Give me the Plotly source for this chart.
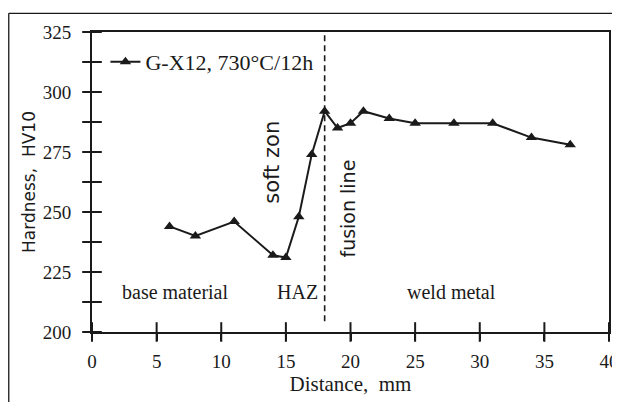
import plotly.graph_objects as go

# ---- data ----
distance_mm = [6, 8, 11, 14, 15, 16, 17, 18, 19, 20, 21, 23, 25, 28, 31, 34, 37]
hardness_hv10 = [244, 240, 246, 232, 231, 248, 274, 292, 285, 287, 292, 289, 287, 287, 287, 281, 278]
series_name = "G-X12, 730°C/12h"
fusion_line_x = 18
x_ticks = [0, 5, 10, 15, 20, 25, 30, 35, 40]
y_ticks = [200, 212.5, 225, 237.5, 250, 262.5, 275, 287.5, 300, 312.5, 325]
y_tick_labels = ["200", "", "225", "", "250", "", "275", "", "300", "", "325"]

SERIF = "Liberation Serif, Times New Roman, serif"
SANS = "DejaVu Sans, Verdana, sans-serif"
INK = "#1a1a1a"

X_RANGE = [0, 40]
Y_RANGE = [200, 325]

fig = go.Figure()

fig.add_trace(go.Scatter(
    x=distance_mm, y=hardness_hv10, name=series_name,
    mode="lines+markers",
    line=dict(color=INK, width=2),
    marker=dict(symbol="triangle-up", size=10, color=INK),
    hoverinfo="x+y",
))

# inner halves of the crossing tick marks (axis ticks themselves are drawn outside)
fig.add_trace(go.Scatter(
    x=x_ticks, y=[Y_RANGE[0]] * len(x_ticks), mode="markers", cliponaxis=False,
    marker=dict(symbol="line-ns-open", size=14, color=INK, line=dict(color=INK, width=2)),
    showlegend=False, hoverinfo="skip",
))
fig.add_trace(go.Scatter(
    x=[X_RANGE[0]] * len(y_ticks), y=y_ticks, mode="markers", cliponaxis=False,
    marker=dict(symbol="line-ew-open", size=14, color=INK, line=dict(color=INK, width=2)),
    showlegend=False, hoverinfo="skip",
))

tick_font = dict(family=SERIF, size=19, color=INK)
tick_common = dict(ticklen=7, tickwidth=2, tickcolor=INK, showgrid=False, zeroline=False)

fig.update_layout(
    width=612, height=394,
    margin=dict(l=84, r=11, t=24, b=70),
    paper_bgcolor="white", plot_bgcolor="white",
    showlegend=True,
    legend=dict(
        x=0.026, y=0.97, xanchor="left", yanchor="top",
        bgcolor="rgba(0,0,0,0)", font=dict(family=SERIF, size=22, color=INK),
        itemwidth=30, tracegroupgap=0,
    ),
    xaxis=dict(
        range=X_RANGE, tickvals=x_ticks, ticks="outside",
        showline=True, linewidth=2, linecolor=INK, mirror=True,
        tickfont=tick_font, ticklabelstandoff=4, automargin=False,
        title=dict(text="Distance,  mm", font=dict(family=SERIF, size=21, color=INK), standoff=4),
        **tick_common,
    ),
    yaxis=dict(
        range=Y_RANGE, tickvals=y_ticks, ticktext=y_tick_labels, ticks="outside",
        showline=True, linewidth=2, linecolor=INK, mirror=True,
        tickfont=tick_font, ticklabelstandoff=8, automargin=False,
        title=dict(text="Hardness,  HV10", font=dict(family=SANS, size=17, color=INK), standoff=3),
        **tick_common,
    ),
)

# fusion line (dashed vertical)
fig.add_shape(type="line", xref="x", yref="y", x0=fusion_line_x, x1=fusion_line_x,
              y0=204.5, y1=325, line=dict(color=INK, width=1.6, dash="6px,4px"))

# outer frame (top and left edges visible)
fig.add_shape(type="line", xref="paper", yref="paper", x0=-0.161, x1=1.2, y0=1.0624, y1=1.0624,
              line=dict(color=INK, width=1.3))
fig.add_shape(type="line", xref="paper", yref="paper", x0=-0.161, x1=-0.161, y0=1.0624, y1=-0.4,
              line=dict(color=INK, width=1.3))

region_font = dict(family=SERIF, size=20, color=INK)
fig.add_annotation(x=6.45, y=216.5, text="base material", showarrow=False, font=region_font)
fig.add_annotation(x=15.9, y=216.5, text="HAZ", showarrow=False, font=region_font)
fig.add_annotation(x=27.85, y=216.5, text="weld metal", showarrow=False, font=region_font)

fig.add_annotation(x=13.86, y=270.6, text="soft zon", textangle=-90, showarrow=False,
                   font=dict(family=SANS, size=21, color=INK))
fig.add_annotation(x=19.8, y=251.4, text="fusion line", textangle=-90, showarrow=False,
                   font=dict(family=SANS, size=19, color=INK))

fig.write_html("out.html")
